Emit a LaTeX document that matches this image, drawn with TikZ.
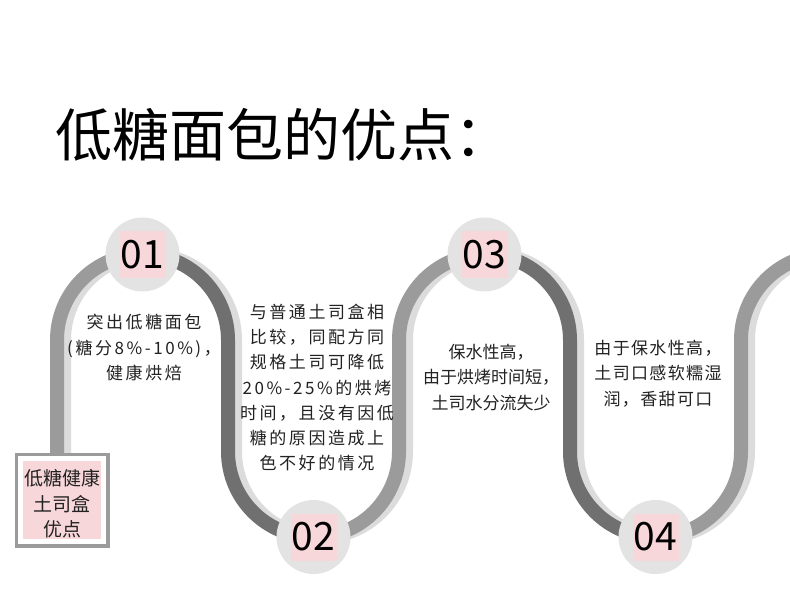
\documentclass[tikz,border=0pt]{standalone}
\usepackage{fontspec}
\setmainfont{Noto Sans CJK SC}
\newfontfamily\widecjk[LetterSpace=15]{Noto Sans CJK SC}
\newfontfamily\semiwidecjk[LetterSpace=8]{Noto Sans CJK SC}
\usetikzlibrary{positioning}
\definecolor{bandmid}{HTML}{9B9B9B}
\definecolor{banddark}{HTML}{707070}
\definecolor{bandshade}{HTML}{DCDCDC}
\definecolor{circfill}{HTML}{E3E3E3}
\definecolor{pinkbg}{HTML}{F8D7DA}
\definecolor{textgray}{HTML}{222222}

\begin{document}
\begin{tikzpicture}[
    x=1pt, y=1pt,
    band/.style={line width=14pt},
    stepcirc/.style={circle,fill=circfill,minimum size=74pt,inner sep=0pt},
    numbox/.style={fill=pinkbg,minimum width=46pt,minimum height=47pt,
                   inner sep=0pt,font=\fontsize{39}{39}\selectfont},
    desc/.style={align=center,text=textgray,inner sep=0pt,
                 font=\fontsize{17}{25.3}\selectfont},
    descwide/.style={desc,font=\widecjk\fontsize{17}{25.3}\selectfont},
    descsemi/.style={desc,font=\semiwidecjk\fontsize{17}{25.3}\selectfont},
    tagbox/.style={fill=pinkbg,draw=white,line width=5pt,
                   minimum width=83pt,minimum height=83pt,inner sep=0pt,
                   preaction={draw=bandmid,line width=12pt}},
    tagtext/.style={align=center,text=textgray,inner sep=0pt,
                    font=\fontsize{19}{25.5}\selectfont},
  ]
  \clip (0,0) rectangle (790,-606);
  \fill[white] (0,0) rectangle (790,-606);

  % title
  \node[anchor=west,inner sep=0pt,font=\fontsize{57}{57}\selectfont] (title)
    at (55,-135) {低糖面包的优点：};

  % step centres on the wave
  \coordinate (p1) at (142.5,-254.5);
  \coordinate (p2) at (313.5,-537);
  \coordinate (p3) at (484.5,-254.5);
  \coordinate (p4) at (655.5,-537);

  % shadow of the wave
  \begin{scope}[xshift=7pt]
    \draw[band,bandshade] (57,-460) -- (57,-340)
      arc[start angle=180,end angle=0,radius=85.5] -- (228,-451.5)
      arc[start angle=180,end angle=360,radius=85.5] -- (399,-340)
      arc[start angle=180,end angle=0,radius=85.5] -- (570,-451.5)
      arc[start angle=180,end angle=360,radius=85.5] -- (741,-340)
      arc[start angle=180,end angle=100,radius=85.5];
  \end{scope}

  % wave segments
  \draw[band,bandmid] (p1) arc[start angle=90,end angle=180,radius=85.5] -- ++(0,-120);
  \draw[band,banddark] (p1) arc[start angle=90,end angle=0,radius=85.5]
    -- ++(0,-111.5) arc[start angle=180,end angle=270,radius=85.5];
  \draw[band,bandmid] (p2) arc[start angle=270,end angle=360,radius=85.5]
    -- ++(0,111.5) arc[start angle=180,end angle=90,radius=85.5];
  \draw[band,banddark] (p3) arc[start angle=90,end angle=0,radius=85.5]
    -- ++(0,-111.5) arc[start angle=180,end angle=270,radius=85.5];
  \draw[band,bandmid] (p4) arc[start angle=270,end angle=360,radius=85.5]
    -- ++(0,111.5) arc[start angle=180,end angle=100,radius=85.5];

  % steps
  \node[stepcirc] (c1) at (p1) {};
  \node[stepcirc] (c2) at (p2) {};
  \node[stepcirc] (c3) at (p3) {};
  \node[stepcirc] (c4) at (p4) {};
  \node[numbox] (n1) at (c1) {01};
  \node[numbox] (n2) at (c2) {02};
  \node[numbox] (n3) at (c3) {03};
  \node[numbox] (n4) at (c4) {04};

  % texts
  \node[descwide] (t1) at (144,-347.5) {突出低糖面包\\(糖分8\%-10\%)，\\健康烘焙};
  \node[descwide] (t2) at (317,-387.5) {与普通土司盒相\\比较，同配方同\\规格土司可降低\\20\%-25\%的烘烤\\时间，且没有因低\\糖的原因造成上\\色不好的情况};
  \node[desc] (t3) at (491,-377.5) {保水性高，\\由于烘烤时间短，\\土司水分流失少};
  \node[descsemi] (t4) at (658,-373.5) {由于保水性高，\\土司口感软糯湿\\润，香甜可口};

  % tag box
  \node[tagbox] (tag) at (62,-500) {};
  \node[tagtext] (tagt) at ([yshift=-4pt]tag.center) {低糖健康\\土司盒\\优点};
\end{tikzpicture}
\end{document}
